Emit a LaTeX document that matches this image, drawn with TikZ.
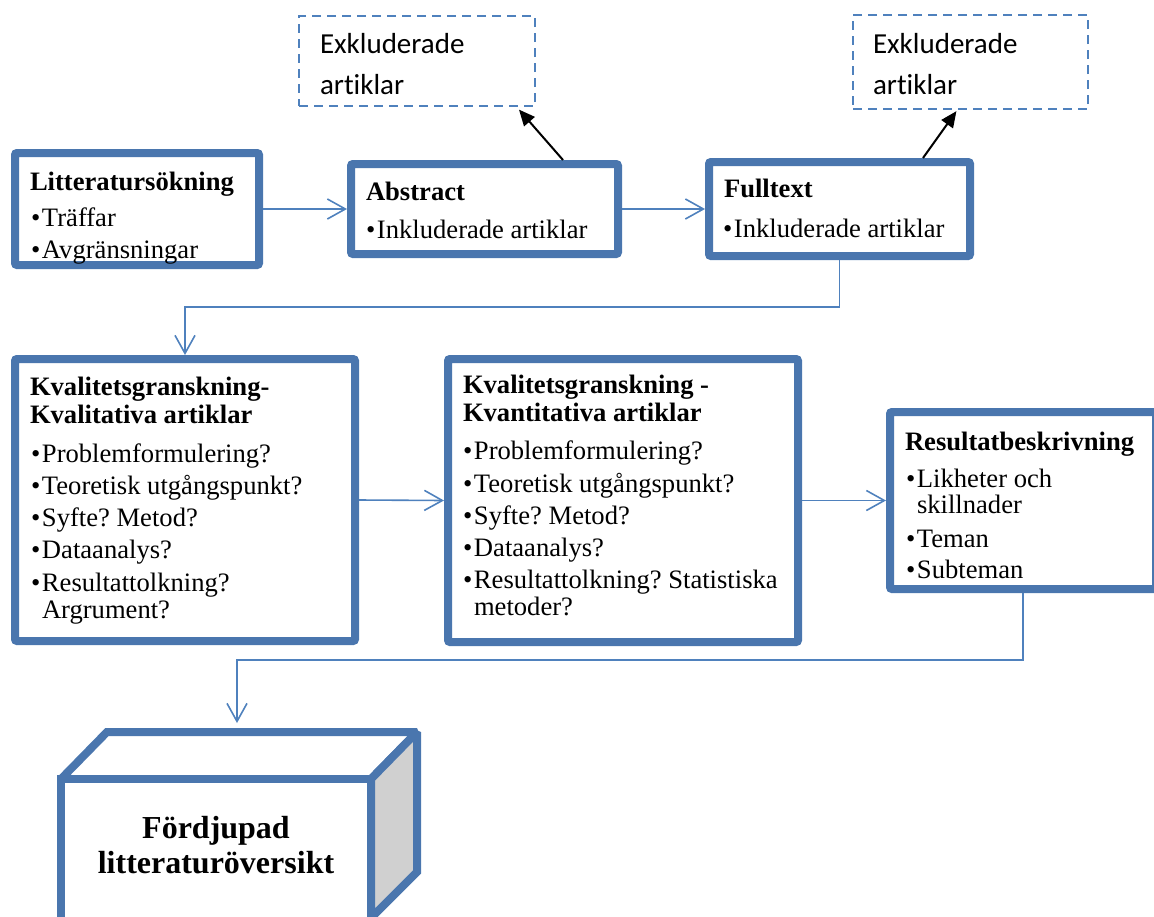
\documentclass[tikz,border=0pt]{standalone}
\usepackage{fontspec}
\setmainfont{Liberation Serif}
\newfontfamily\calfont[Ligatures={NoCommon,NoContextual}]{Carlito}
\usetikzlibrary{arrows.meta,shadows,calc}
\definecolor{boxblue}{HTML}{4A76AE}
\definecolor{lineblue}{HTML}{4F81BD}
\definecolor{sidegray}{HTML}{D0D0D0}
\frenchspacing
\newcommand\bu{\makebox[11pt][l]{•}}
\newcommand\tl[4]{\node[txt] (#1) at (#2,#3) {#4};}
\newcommand\hl[4]{\node[txt,font=\fontsize{26.6}{27}\selectfont\bfseries] (#1) at (#2,#3) {#4};}
\newcommand\el[4]{\node[txt,font=\fontsize{29}{30}\selectfont\calfont] (#1) at (#2,#3) {#4};}
\begin{document}
\begin{tikzpicture}[x=1pt,y=-1pt,
  box/.style={draw=boxblue,line width=8pt,fill=white,rounded corners=2pt,
    drop shadow={opacity=0.25,shadow xshift=2pt,shadow yshift=-3pt}},
  exbox/.style={draw=lineblue,line width=2.7pt,dash pattern=on 9pt off 6pt,fill=white},
  txt/.style={anchor=base west,inner sep=0pt,outer sep=0pt,font=\fontsize{26.6}{27}\selectfont},
  conn/.style={draw=lineblue,line width=1.6pt,-{Straight Barb[length=18pt,width=20pt,line width=1.6pt]}},
  blk/.style={draw=black,line width=2pt,-{Triangle[length=16pt,width=14pt]}},
  face/.style={draw=boxblue,line width=8pt,line join=miter,miter limit=1.5}]
\useasboundingbox (0,0) rectangle (1154,916);

% boxes
\node[box,minimum width=244pt,minimum height=112pt] (lit) at (137,209) {};
\node[box,minimum width=267pt,minimum height=90pt] (abs) at (484.5,209) {};
\node[box,minimum width=261pt,minimum height=94pt] (full) at (839.5,209) {};
\node[exbox,minimum width=236pt,minimum height=90pt] (ex1) at (417,61) {};
\node[exbox,minimum width=235pt,minimum height=94pt] (ex2) at (970.5,62) {};
\node[box,minimum width=340pt,minimum height=282pt] (kval) at (185,500) {};
\node[box,minimum width=350pt,minimum height=283pt] (kvant) at (623,500.5) {};
\node[box,minimum width=266pt,minimum height=177pt] (res) at (1023,500.5) {};

% cube
\filldraw[face,fill=white] (61,779) -- (107,732) -- (417,732) -- (371,779) -- cycle;
\filldraw[face,fill=sidegray] (371,779) -- (417,732) -- (417,872) -- (371,918) -- cycle;
\node[draw=boxblue,fill=white,line width=8pt,minimum width=310pt,minimum height=156pt,inner sep=0pt] (cube) at (216,857) {};
\coordinate (cubetop) at (237,723);

% texts
\hl{lit-h}{30}{190}{Litteratursökning}
\tl{lit-1}{31}{226}{\bu Träffar}
\tl{lit-2}{31}{258}{\bu Avgränsningar}

\hl{abs-h}{366}{200}{Abstract}
\tl{abs-1}{366}{238}{\bu Inkluderade artiklar}

\hl{full-h}{724}{197}{Fulltext}
\tl{full-1}{723}{237}{\bu Inkluderade artiklar}

\el{ex1-1}{320}{53}{Exkluderade}
\el{ex1-2}{320}{94}{artiklar}
\el{ex2-1}{873}{53}{Exkluderade}
\el{ex2-2}{873}{94}{artiklar}

\hl{kval-h1}{30}{395}{Kvalitetsgranskning-}
\hl{kval-h2}{30}{423}{Kvalitativa artiklar}
\tl{kval-1}{31}{462}{\bu Problemformulering?}
\tl{kval-2}{31}{494}{\bu Teoretisk utgångspunkt?}
\tl{kval-3}{31}{526}{\bu Syfte? Metod?}
\tl{kval-4}{31}{558}{\bu Dataanalys?}
\tl{kval-5}{31}{591}{\bu Resultattolkning?}
\tl{kval-6}{42}{618}{Argrument?}

\hl{kvant-h1}{463}{393}{Kvalitetsgranskning -}
\hl{kvant-h2}{463}{421}{Kvantitativa artiklar}
\tl{kvant-1}{463}{459}{\bu Problemformulering?}
\tl{kvant-2}{463}{492}{\bu Teoretisk utgångspunkt?}
\tl{kvant-3}{463}{524}{\bu Syfte? Metod?}
\tl{kvant-4}{463}{556}{\bu Dataanalys?}
\tl{kvant-5}{463}{588}{\bu Resultattolkning? Statistiska}
\tl{kvant-6}{474}{615}{metoder?}

\hl{res-h}{905}{450}{Resultatbeskrivning}
\tl{res-1}{906}{487}{\bu Likheter och}
\tl{res-2}{917}{513}{skillnader}
\tl{res-3}{906}{547}{\bu Teman}
\tl{res-4}{906}{578}{\bu Subteman}

\node[inner sep=0pt,align=center,font=\fontsize{32}{35}\selectfont\bfseries] (cube-t) at (216,845) {Fördjupad\\litteraturöversikt};

% connectors
\draw[conn] (lit.east) -- (abs.west);
\draw[conn] (abs.east) -- (full.west);
\draw[conn] (full.south) -- ++(0,47) -| (kval.north);
\draw[conn] (kval.east) -- (kvant.west);
\draw[conn] (kvant.east) -- (res.west);
\draw[conn] (res.south) -- ++(0,67) -| (cubetop);
\draw[blk,shorten >=3pt] ([xshift=78.5pt]abs.north) -- ([xshift=100pt]ex1.south);
\draw[blk,shorten >=1pt] ([xshift=83.5pt]full.north) -- ([xshift=-13.5pt]ex2.south);
\end{tikzpicture}
\end{document}
